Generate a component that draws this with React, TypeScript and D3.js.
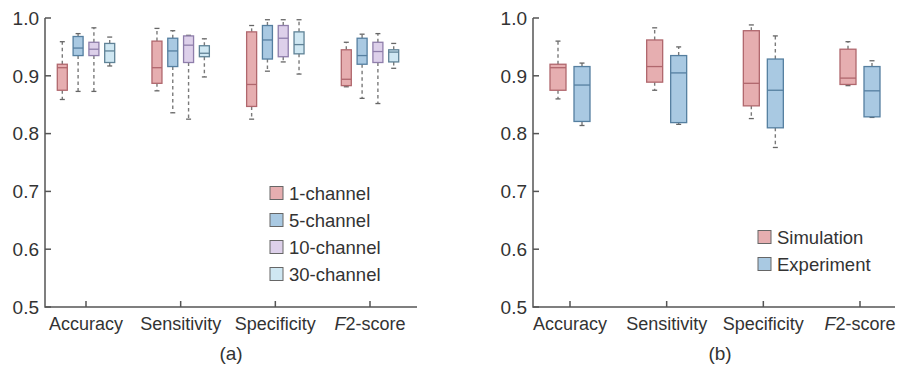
import React from 'react';
import * as d3 from 'd3';

// Box summaries are [whiskerLow, q1, median, q3, whiskerHigh] per category
const categories = ['Accuracy', 'Sensitivity', 'Specificity', 'F2-score'];
const yTicks = [0.5, 0.6, 0.7, 0.8, 0.9, 1.0];

const channelSeries = ['1-channel', '5-channel', '10-channel', '30-channel'];
const ch1 = [
  [0.859, 0.875, 0.914, 0.920, 0.959],
  [0.874, 0.887, 0.914, 0.960, 0.982],
  [0.825, 0.847, 0.885, 0.976, 0.987],
  [0.881, 0.883, 0.894, 0.945, 0.958],
];
const ch5 = [
  [0.873, 0.935, 0.948, 0.968, 0.973],
  [0.836, 0.916, 0.943, 0.965, 0.978],
  [0.908, 0.929, 0.962, 0.987, 0.997],
  [0.861, 0.920, 0.935, 0.965, 0.972],
];
const ch10 = [
  [0.873, 0.935, 0.946, 0.958, 0.983],
  [0.825, 0.923, 0.953, 0.969, 0.970],
  [0.924, 0.933, 0.965, 0.987, 0.997],
  [0.852, 0.923, 0.942, 0.958, 0.973],
];
const ch30 = [
  [0.917, 0.923, 0.943, 0.956, 0.967],
  [0.898, 0.933, 0.939, 0.952, 0.964],
  [0.903, 0.938, 0.954, 0.976, 0.997],
  [0.913, 0.924, 0.941, 0.945, 0.956],
];

const compareSeries = ['Simulation', 'Experiment'];
const simulation = [
  [0.860, 0.875, 0.914, 0.920, 0.960],
  [0.875, 0.889, 0.916, 0.962, 0.983],
  [0.826, 0.848, 0.887, 0.978, 0.988],
  [0.883, 0.885, 0.896, 0.946, 0.959],
];
const experiment = [
  [0.814, 0.821, 0.884, 0.916, 0.922],
  [0.816, 0.819, 0.905, 0.935, 0.950],
  [0.776, 0.810, 0.875, 0.929, 0.969],
  [0.828, 0.829, 0.874, 0.916, 0.926],
];

const RED = { fill: '#e6aeb0', stroke: '#b0676d' };
const BLUE = { fill: '#a9c9e2', stroke: '#557fa0' };
const PURPLE = { fill: '#ddd0ea', stroke: '#8f7eab' };
const LIGHT = { fill: '#cfe7f2', stroke: '#5f8296' };

const FONT = '"Liberation Sans", Arial, sans-serif';
const AXIS = '#555';

interface PanelProps {
  axisX: number;
  axisEnd: number;
  tickFirst: number;
  tickLast: number;
  names: string[];
  data: number[][][];
  colors: { fill: string; stroke: string }[];
  boxW: number;
  spacing: number;
  legendX: number;
  legendY: number;
  caption: string;
  captionX: number;
}

const top = 18;
const bottom = 307;

const Panel: React.FC<PanelProps> = (p) => {
  const y = d3.scaleLinear().domain([0.5, 1.0]).range([bottom, top]);
  const x = d3.scalePoint<string>().domain(categories).range([p.tickFirst, p.tickLast]);
  const n = p.names.length;
  const offsets = p.names.map((_, i) => (i - (n - 1) / 2) * p.spacing);
  const capW = 5;

  return (
    <g>
      {/* axes */}
      <path d={`M${p.axisX},${top}V${bottom}H${p.axisEnd}`} fill="none" stroke={AXIS} strokeWidth={1.5} />
      {yTicks.map((t) => (
        <g key={t}>
          <line x1={p.axisX} x2={p.axisX + 6} y1={y(t)} y2={y(t)} stroke={AXIS} strokeWidth={1.5} />
          <text x={p.axisX - 6} y={y(t)} dy="0.36em" textAnchor="end" fontSize={19} fill="#333" fontFamily={FONT}>
            {t.toFixed(1)}
          </text>
        </g>
      ))}
      {categories.map((c) => (
        <g key={c}>
          <line x1={x(c)} x2={x(c)} y1={bottom} y2={bottom - 6} stroke={AXIS} strokeWidth={1.5} />
          <text x={x(c)} y={bottom + 23} textAnchor="middle" fontSize={18} fill="#333" fontFamily={FONT}>
            {c === 'F2-score' ? (
              <>
                <tspan fontStyle="italic">F</tspan>2-score
              </>
            ) : (
              c
            )}
          </text>
        </g>
      ))}

      {/* boxes */}
      {p.data.map((series, si) =>
        series.map((b, ci) => {
          const cx = (x(categories[ci]) ?? 0) + offsets[si];
          const [lo, q1, med, q3, hi] = b;
          const col = p.colors[si];
          return (
            <g key={`${si}-${ci}`}>
              <line x1={cx} x2={cx} y1={y(q3)} y2={y(hi)} stroke="#7a7a7a" strokeWidth={1.4} strokeDasharray="3.5,3" />
              <line x1={cx} x2={cx} y1={y(q1)} y2={y(lo)} stroke="#7a7a7a" strokeWidth={1.4} strokeDasharray="3.5,3" />
              <line x1={cx - capW / 2} x2={cx + capW / 2} y1={y(hi)} y2={y(hi)} stroke="#666" strokeWidth={1.3} />
              <line x1={cx - capW / 2} x2={cx + capW / 2} y1={y(lo)} y2={y(lo)} stroke="#666" strokeWidth={1.3} />
              <rect
                x={cx - p.boxW / 2}
                y={y(q3)}
                width={p.boxW}
                height={y(q1) - y(q3)}
                fill={col.fill}
                stroke={col.stroke}
                strokeWidth={1.3}
              />
              <line x1={cx - p.boxW / 2} x2={cx + p.boxW / 2} y1={y(med)} y2={y(med)} stroke={col.stroke} strokeWidth={1.3} />
            </g>
          );
        })
      )}

      {/* legend */}
      {p.names.map((name, i) => (
        <g key={name} transform={`translate(${p.legendX},${p.legendY + i * 27})`}>
          <rect x={0} y={-6.5} width={13} height={13} fill={p.colors[i].fill} stroke="#666" strokeWidth={1} />
          <text x={19} y={0} dy="0.36em" fontSize={18.5} fill="#333" fontFamily={FONT}>
            {name}
          </text>
        </g>
      ))}

      <text x={p.captionX} y={360} textAnchor="middle" fontSize={19} fill="#333" fontFamily={FONT}>
        {p.caption}
      </text>
    </g>
  );
};

const App: React.FC = () => {
  return (
    <svg
      width={906}
      height={365}
      style={{ position: 'absolute', left: 0, top: 0, background: '#fff' }}
    >
      <rect width={906} height={365} fill="#fff" />
      <Panel
        axisX={45}
        axisEnd={417}
        tickFirst={86}
        tickLast={370}
        names={channelSeries}
        data={[ch1, ch5, ch10, ch30]}
        colors={[RED, BLUE, PURPLE, LIGHT]}
        boxW={10}
        spacing={15.8}
        legendX={270}
        legendY={193}
        caption="(a)"
        captionX={231}
      />
      <Panel
        axisX={533}
        axisEnd={895}
        tickFirst={570}
        tickLast={860}
        names={compareSeries}
        data={[simulation, experiment]}
        colors={[RED, BLUE]}
        boxW={16}
        spacing={24}
        legendX={758}
        legendY={237}
        caption="(b)"
        captionX={720}
      />
    </svg>
  );
};

export default App;
